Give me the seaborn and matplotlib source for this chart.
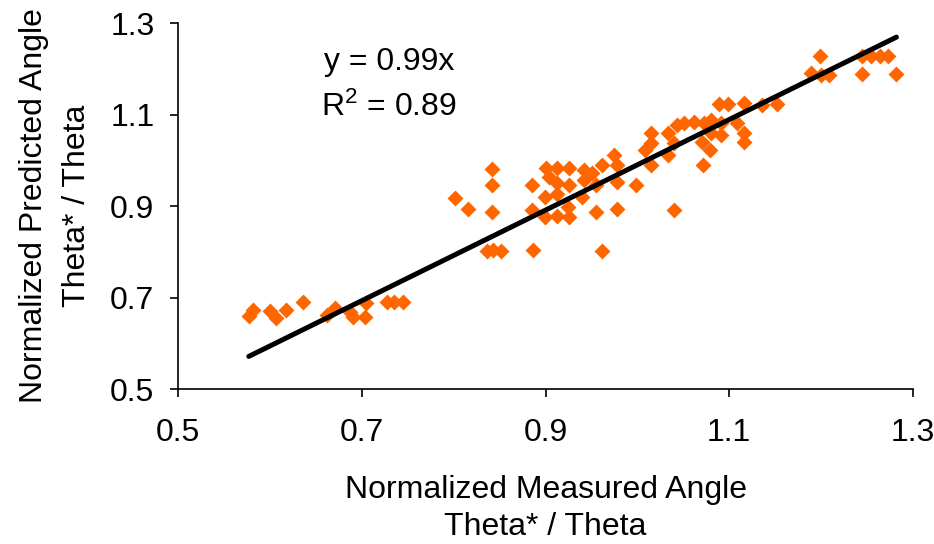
import matplotlib
matplotlib.use("Agg")
import matplotlib.pyplot as plt
import seaborn as sns
import numpy as np
import pandas as pd

# Normalized measured angle (x) and normalized predicted angle (y)
measured = [
    0.577, 0.582, 0.600, 0.607, 0.618, 0.636, 0.662, 0.671, 0.687, 0.690,
    0.703, 0.705, 0.727, 0.735, 0.745,
    0.801, 0.816, 0.842, 0.842, 0.842, 0.836, 0.843, 0.852, 0.885, 0.885, 0.886,
    0.901, 0.913, 0.926, 0.942, 0.961, 0.951, 0.904, 0.912, 0.926, 0.942,
    0.955, 0.899, 0.912, 0.940, 0.924, 0.955, 0.899, 0.913, 0.926, 0.961,
    0.975, 0.978, 0.978, 0.999, 0.978, 1.040, 1.015, 1.033, 1.015, 1.008,
    1.040, 1.033, 1.015, 1.043, 1.051, 1.062, 1.073, 1.080, 1.091, 1.108,
    1.080, 1.091, 1.116, 1.116, 1.070, 1.079, 1.071, 1.089, 1.099, 1.116,
    1.136, 1.152,
    1.199, 1.189, 1.200, 1.209, 1.245, 1.254, 1.264, 1.273, 1.245, 1.282,
]
predicted = [
    0.660, 0.673, 0.670, 0.655, 0.673, 0.690, 0.662, 0.677, 0.668, 0.657,
    0.657, 0.688, 0.690, 0.690, 0.690,
    0.917, 0.893, 0.981, 0.946, 0.887, 0.802, 0.804, 0.802, 0.946, 0.891, 0.804,
    0.983, 0.983, 0.983, 0.979, 0.990, 0.972, 0.963, 0.950, 0.946, 0.957,
    0.946, 0.920, 0.926, 0.920, 0.898, 0.887, 0.876, 0.878, 0.876, 0.802,
    1.011, 0.990, 0.952, 0.946, 0.893, 0.891, 1.060, 1.060, 1.038, 1.022,
    1.038, 1.011, 0.990, 1.077, 1.081, 1.084, 1.081, 1.088, 1.081, 1.081,
    1.060, 1.055, 1.060, 1.040, 1.040, 1.022, 0.990, 1.123, 1.123, 1.125,
    1.121, 1.123,
    1.228, 1.191, 1.186, 1.186, 1.228, 1.228, 1.228, 1.228, 1.189, 1.189,
]
slope = 0.99
r_squared = 0.89
ticks = [0.5, 0.7, 0.9, 1.1, 1.3]

df = pd.DataFrame({"measured": measured, "predicted": predicted})
x_line = [min(measured), max(measured)]
trend = pd.DataFrame({"x": x_line, "y": [slope * v for v in x_line]})

sns.set_style("ticks")
plt.rcParams["font.family"] = ["Liberation Sans", "DejaVu Sans"]
plt.rcParams["mathtext.fontset"] = "custom"
plt.rcParams["mathtext.rm"] = "Liberation Sans"
plt.rcParams["mathtext.it"] = "Liberation Sans"
plt.rcParams["text.color"] = "black"
plt.rcParams["axes.labelcolor"] = "black"

FS = 23

fig = plt.figure(figsize=(9.34, 5.44), dpi=100)
ax = fig.add_axes([0.1906, 0.2849, 0.7869, 0.6728])

sns.scatterplot(data=df, x="measured", y="predicted", marker="D", s=66,
                color="#FF6600", linewidth=0, ax=ax, zorder=2)
sns.lineplot(data=trend, x="x", y="y", color="black", linewidth=3.6, ax=ax, zorder=3)

ax.set_xlim(0.5, 1.3)
ax.set_ylim(0.5, 1.3)
ax.set_xticks(ticks)
ax.set_yticks(ticks)
ax.set_xticklabels([f"{t:.1f}" for t in ticks])
ax.set_yticklabels([f"{t:.1f}" for t in ticks])
ax.tick_params(axis="x", direction="out", length=6, width=1.2, labelsize=FS, pad=15,
               colors="black", labelcolor="black")
ax.tick_params(axis="y", direction="out", length=6, width=1.2, labelsize=FS, pad=11,
               colors="black", labelcolor="black")
for side in ["top", "right"]:
    ax.spines[side].set_visible(False)
for side in ["left", "bottom"]:
    ax.spines[side].set_linewidth(1.2)
    ax.spines[side].set_color("black")

ax.set_xlabel("Normalized Measured Angle\nTheta* / Theta", fontsize=FS, linespacing=1.34, labelpad=19)
ax.set_ylabel("Normalized Predicted Angle\nTheta* / Theta", fontsize=FS, linespacing=1.56, labelpad=13)

ax.text(0.730, 1.215, f"y = {slope:.2f}x", fontsize=FS, ha="center", va="center")
ax.text(0.730, 1.116, r"R$^{2}$" + f" = {r_squared:.2f}", fontsize=FS, ha="center", va="center")

fig.savefig("out.png", dpi=100)
